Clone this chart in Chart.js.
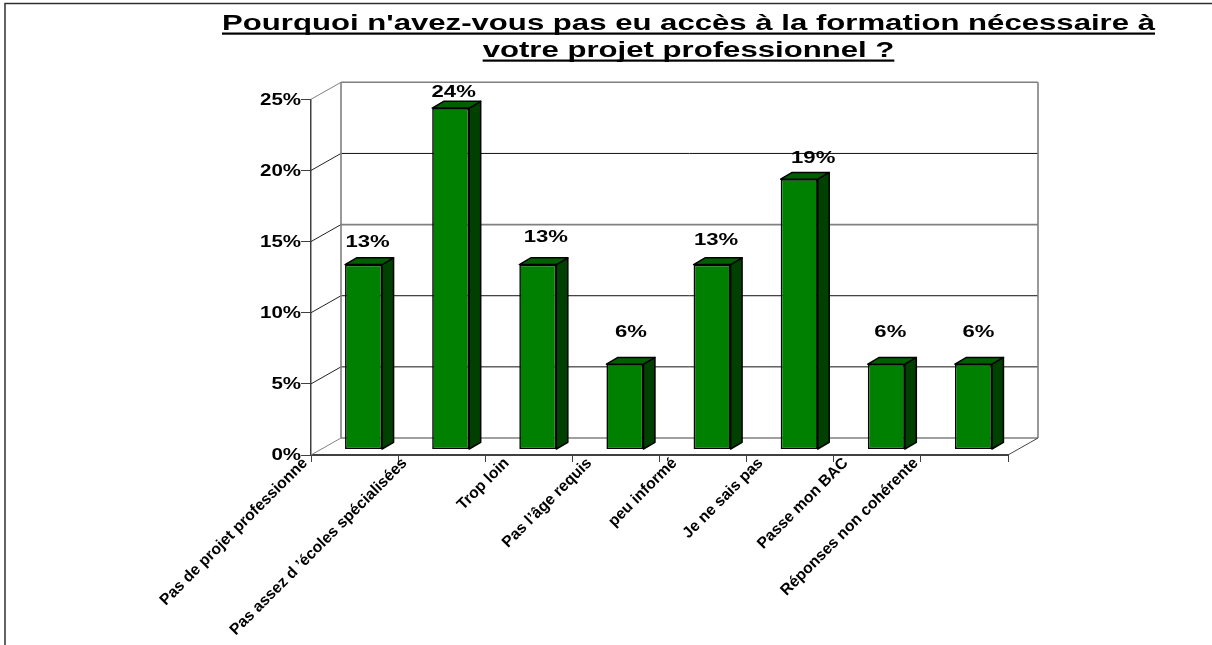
<!DOCTYPE html>
<html>
<head>
<meta charset="utf-8">
<style>html,body{margin:0;padding:0;background:#fff}canvas{display:block}</style>
<script src="https://cdn.jsdelivr.net/npm/chart.js@4"></script>
</head>
<body>
<canvas id="c" width="1212" height="645"></canvas>
<script>
const categories = ["Pas de projet professionne", "Pas assez d ’écoles spécialisées", "Trop loin", "Pas l’âge requis", "peu informé", "Je ne sais pas", "Passe mon BAC", "Réponses non cohérente"];
const values = [13, 24, 13, 6, 13, 19, 6, 6];
const yTicks = [0, 5, 10, 15, 20, 25];
const titleLines = ["Pourquoi n'avez-vous pas eu accès à la formation nécessaire à", "votre projet professionnel ?"];

// layout (separate from the data)
const FAMILY = '"Liberation Sans", Arial, sans-serif';
const WALL = { dx: 30, dy: -17 };
const BAR_SHIFT = { dx: 9, dy: -5.5 };
const BAR_DEPTH = { dx: 11.5, dy: -6.7 };
const STRETCH = 1.38;
const Y_STRETCH = 1.28;
const TITLE_SIZE = 22;
const TITLE_STRETCH = 1.415;
const TITLE_CENTER = 688.5;
const xLabelNudge = [-49.5, -37, -22, -26.5, -28.5, -29.5, -31.5, -48.5];
const xLabelLift = -8;
const valueLabelNudge = [[4,18],[3,11],[8,23],[6,27],[4,20],[14,16],[4,27],[5,27]];

const threeD = {
  id: 'threeD',
  beforeDraw(chart) {
    const ctx = chart.ctx;
    ctx.save();
    ctx.strokeStyle = '#303030';
    ctx.lineWidth = 1.5;
    ctx.beginPath();
    ctx.moveTo(5, 645); ctx.lineTo(5, 3.5); ctx.lineTo(1212, 3.5);
    ctx.stroke();
    ctx.restore();
  },
  beforeDatasetsDraw(chart) {
    const { ctx, chartArea: a, scales: { y } } = chart;
    const L = a.left, R = a.right, B = a.bottom;
    const bx = L + WALL.dx, brx = R + WALL.dx;
    ctx.save();
    yTicks.forEach(v => {
      const py = y.getPixelForValue(v);
      const gray = v === 0 || v === 15 || v === 25;
      ctx.strokeStyle = gray ? '#808080' : '#111';
      ctx.lineWidth = gray ? 1.6 : 1;
      ctx.beginPath();
      ctx.moveTo(bx, py + WALL.dy); ctx.lineTo(brx, py + WALL.dy);
      ctx.stroke();
      ctx.strokeStyle = v === 25 || v === 0 ? '#808080' : '#222';
      ctx.lineWidth = 1;
      ctx.beginPath();
      ctx.moveTo(L, py); ctx.lineTo(bx, py + WALL.dy);
      ctx.stroke();
    });
    ctx.strokeStyle = '#808080';
    ctx.lineWidth = 1.6;
    ctx.beginPath();
    ctx.moveTo(bx, y.getPixelForValue(25) + WALL.dy); ctx.lineTo(bx, B + WALL.dy);
    ctx.moveTo(brx, y.getPixelForValue(25) + WALL.dy); ctx.lineTo(brx, B + WALL.dy);
    ctx.stroke();
    ctx.strokeStyle = '#444';
    ctx.lineWidth = 1;
    ctx.beginPath();
    ctx.moveTo(R, B); ctx.lineTo(brx, B + WALL.dy);
    ctx.stroke();
    ctx.restore();
  },
  beforeDatasetDraw(chart) {
    chart.ctx.save();
    chart.ctx.translate(BAR_SHIFT.dx, BAR_SHIFT.dy);
  },
  afterDatasetDraw(chart, args) {
    const ctx = chart.ctx;
    const meta = args.meta;
    ctx.lineWidth = 1.5;
    ctx.strokeStyle = '#000';
    ctx.lineJoin = 'round';
    meta.data.forEach(bar => {
      const l = bar.x - bar.width / 2, r = bar.x + bar.width / 2, t = bar.y, b = bar.base;
      const d = BAR_DEPTH;
      ctx.fillStyle = '#004000';
      ctx.beginPath();
      ctx.moveTo(r, t); ctx.lineTo(r + d.dx, t + d.dy); ctx.lineTo(r + d.dx, b + d.dy); ctx.lineTo(r, b); ctx.closePath();
      ctx.fill(); ctx.stroke();
      ctx.fillStyle = '#006000';
      ctx.beginPath();
      ctx.moveTo(l, t); ctx.lineTo(l + d.dx, t + d.dy); ctx.lineTo(r + d.dx, t + d.dy); ctx.lineTo(r, t); ctx.closePath();
      ctx.fill(); ctx.stroke();
    });
    ctx.restore();
    // value labels
    ctx.save();
    ctx.fillStyle = '#000';
    ctx.font = 'bold 16px ' + FAMILY;
    ctx.textAlign = 'center';
    ctx.textBaseline = 'alphabetic';
    meta.data.forEach((bar, i) => {
      const [nx, ny] = valueLabelNudge[i];
      ctx.save();
      ctx.translate(bar.x + BAR_SHIFT.dx + nx, bar.y + BAR_SHIFT.dy - ny);
      ctx.scale(STRETCH, 1);
      ctx.fillText(values[i] + '%', 0, 0);
      ctx.restore();
    });
    ctx.restore();
  },
  afterLayout(chart) {
    const tb = chart.titleBlock;
    if (!tb || tb._wrapped) return;
    tb._wrapped = true;
    const orig = tb.draw.bind(tb);
    tb.draw = function () {
      const ctx = chart.ctx;
      tb.left = TITLE_CENTER - 480; tb.right = TITLE_CENTER + 480;
      ctx.save();
      ctx.translate(TITLE_CENTER, 0);
      ctx.scale(TITLE_STRETCH, 1);
      ctx.translate(-TITLE_CENTER, 0);
      orig();
      ctx.restore();
      ctx.save();
      ctx.fillStyle = '#000';
      ctx.font = 'bold ' + TITLE_SIZE + 'px ' + FAMILY;
      const w1 = ctx.measureText(titleLines[0]).width * TITLE_STRETCH;
      const w2 = ctx.measureText(titleLines[1]).width * TITLE_STRETCH;
      ctx.fillRect(TITLE_CENTER - w1 / 2, 32.5, w1, 2.2);
      ctx.fillRect(TITLE_CENTER - w2 / 2, 59.5, w2, 2.2);
      ctx.restore();
    };
  }
};

new Chart(document.getElementById('c'), {
  type: 'bar',
  data: {
    labels: categories,
    datasets: [{
      data: values,
      backgroundColor: '#008000',
      borderColor: '#000',
      borderWidth: 1.6,
      borderSkipped: false,
      barPercentage: 0.425,
      categoryPercentage: 1
    }]
  },
  options: {
    responsive: false,
    animation: false,
    devicePixelRatio: 1,
    layout: { padding: { left: 0, right: 204, top: 0, bottom: 0 } },
    plugins: {
      legend: { display: false },
      tooltip: { enabled: false },
      title: {
        display: true,
        text: titleLines,
        color: '#000',
        font: { family: FAMILY, size: TITLE_SIZE, weight: 'bold', lineHeight: 27 / TITLE_SIZE },
        padding: { top: 10.5, bottom: 34.8 }
      }
    },
    scales: {
      x: {
        afterFit(s) {
          s.height = 190;
          if (!s._nudged) {
            s._nudged = true;
            const orig = s.getLabelItems.bind(s);
            s.getLabelItems = function (ca) {
              return orig(ca).map((it, i) => {
                const tr = it.options.translation;
                return { ...it, options: { ...it.options, translation: [tr[0] + xLabelNudge[i], tr[1] + xLabelLift] } };
              });
            };
          }
        },
        grid: { drawOnChartArea: false, drawTicks: true, tickLength: 7, color: '#404040', lineWidth: 1 },
        border: { color: '#404040', width: 2 },
        ticks: {
          autoSkip: false, minRotation: 45, maxRotation: 45, padding: 0,
          color: '#000', font: { family: FAMILY, size: 15.7, weight: 'bold' }
        }
      },
      y: {
        min: 0, max: 25,
        afterFit(s) {
          s.width = 311;
          if (!s._stretched) {
            s._stretched = true;
            const orig = s.drawLabels.bind(s);
            s.drawLabels = function (ca) {
              const ctx = s.ctx, x0 = 301;
              ctx.save();
              ctx.translate(x0, 1); ctx.scale(Y_STRETCH, 1); ctx.translate(-x0, 0);
              orig(ca);
              ctx.restore();
            };
          }
        },
        afterBuildTicks(s) { s.ticks = yTicks.map(v => ({ value: v })); },
        grid: { drawOnChartArea: false, drawTicks: true, tickLength: 10, color: '#404040', lineWidth: 1 },
        border: { color: '#404040', width: 1.5 },
        ticks: {
          padding: 0, color: '#000',
          font: { family: FAMILY, size: 16, weight: 'bold' },
          callback: v => v + '%'
        }
      }
    }
  },
  plugins: [threeD]
});
</script>
</body>
</html>
